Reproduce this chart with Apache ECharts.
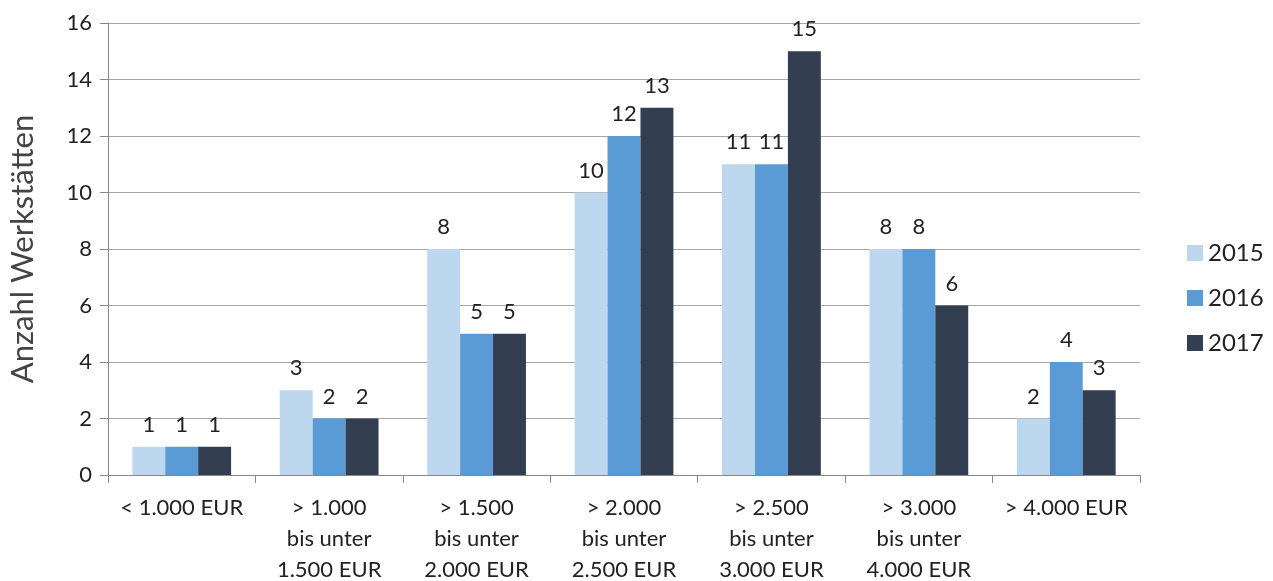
<!DOCTYPE html>
<html>
<head>
<meta charset="utf-8">
<script src="https://cdn.jsdelivr.net/npm/echarts@6/dist/echarts.min.js"></script>
<style>
  html, body { margin: 0; padding: 0; background: #fff; }
  #chart { width: 1273px; height: 581px; }
</style>
</head>
<body>
<div id="chart"></div>
<script>
// Preisklassen (Kategorien der x-Achse)
const categories = [
  '< 1.000 EUR',
  '> 1.000\nbis unter\n1.500 EUR',
  '> 1.500\nbis unter\n2.000 EUR',
  '> 2.000\nbis unter\n2.500 EUR',
  '> 2.500\nbis unter\n3.000 EUR',
  '> 3.000\nbis unter\n4.000 EUR',
  '> 4.000 EUR'
];
// Anzahl Werkstätten je Jahr
const years = ['2015', '2016', '2017'];
const values2015 = [1, 3, 8, 10, 11, 8, 2];
const values2016 = [1, 2, 5, 12, 11, 8, 4];
const values2017 = [1, 2, 5, 13, 15, 6, 3];
const colors = ['#bdd7ee', '#5b9bd5', '#333f50'];

const FONT = 'Lato, "Open Sans", sans-serif';
const seriesData = [values2015, values2016, values2017];

const chart = echarts.init(document.getElementById('chart'));
chart.setOption({
  animation: false,
  textStyle: { fontFamily: FONT },
  grid: { left: 108, right: 133, top: 23, bottom: 106, outerBoundsMode: 'none', containLabel: false },
  legend: {
    orient: 'vertical',
    left: 1182,
    top: 236,
    itemWidth: 16,
    itemHeight: 16,
    itemGap: 21,
    icon: 'rect',
    textStyle: { fontSize: 24, color: '#222', fontFamily: FONT },
    data: years
  },
  xAxis: {
    type: 'category',
    data: categories,
    axisLine: { lineStyle: { color: '#888', width: 1 } },
    axisTick: { show: true, length: 8, lineStyle: { color: '#888' } },
    axisLabel: {
      color: '#222',
      fontSize: 22,
      lineHeight: 31,
      margin: 17,
      interval: 0,
      fontFamily: FONT
    }
  },
  yAxis: {
    type: 'value',
    min: 0,
    max: 16,
    interval: 2,
    name: 'Anzahl Werkstätten',
    nameLocation: 'middle',
    nameGap: 70,
    nameTextStyle: { fontSize: 31, color: '#444', fontFamily: FONT },
    axisLine: { show: true, lineStyle: { color: '#888', width: 1 } },
    axisTick: { show: true, length: 8, lineStyle: { color: '#888' } },
    axisLabel: { color: '#222', fontSize: 22, margin: 16, fontFamily: FONT },
    splitLine: { lineStyle: { color: '#a6a6a6', width: 1 } }
  },
  series: years.map((y, i) => ({
    name: y,
    type: 'bar',
    data: seriesData[i],
    barGap: '0%',
    barCategoryGap: '33%',
    itemStyle: { color: colors[i] },
    label: {
      show: true,
      position: 'top',
      distance: 11,
      color: '#222',
      fontSize: 22,
      fontFamily: FONT
    }
  }))
});
</script>
</body>
</html>
